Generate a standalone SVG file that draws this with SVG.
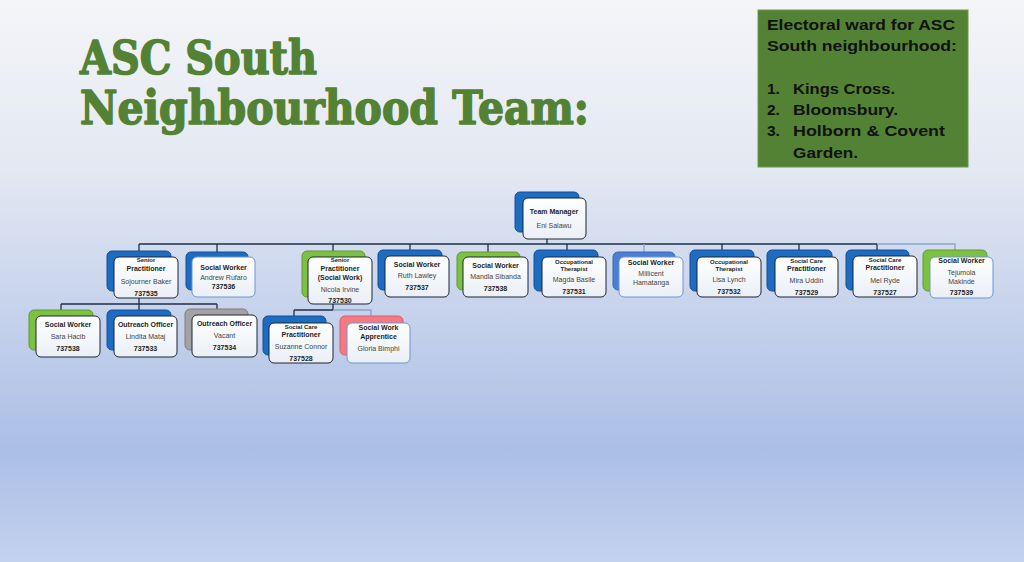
<svg xmlns="http://www.w3.org/2000/svg" width="1024" height="562" viewBox="0 0 1024 562">
<defs>
<linearGradient id="bg" x1="0" y1="0" x2="0" y2="1">
<stop offset="0" stop-color="#f4f5f8"/>
<stop offset="0.3" stop-color="#e3e8f2"/>
<stop offset="0.8" stop-color="#abbee6"/>
<stop offset="1" stop-color="#c3d2ee"/>
</linearGradient>
<linearGradient id="fg" x1="0" y1="0" x2="0" y2="1">
<stop offset="0" stop-color="#ffffff"/>
<stop offset="1" stop-color="#eaeff6"/>
</linearGradient>
<style>
.bb{fill:#1d6cc2;stroke:#134f94;stroke-width:1}
.bg{fill:#7dc142;stroke:#5f9a2e;stroke-width:1}
.bgr{fill:#a3a3a3;stroke:#7d7d7d;stroke-width:1}
.bp{fill:#f47a82;stroke:#d85d66;stroke-width:1}
.bl{fill:#4a7fd2;stroke:#3a69b5;stroke-width:1}
.fr{fill:url(#fg);stroke:#1c2636;stroke-width:1}
.fl{fill:url(#fg);stroke:#6f95d6;stroke-width:1}
text{font-family:"Liberation Sans",Arial,sans-serif;text-anchor:middle}
.t{font-size:7px;font-weight:bold;fill:#1e1e1e}
.ts{font-size:6px;font-weight:bold;fill:#1e1e1e}
.n{font-size:7px;fill:#444}
.id{font-size:7px;font-weight:bold;fill:#1e1e1e}
.c{stroke:#1f2f4a;stroke-width:1.3;fill:none}
.cl{stroke:#8aa3cc;stroke-width:1.3;fill:none}
.title{font-family:"DejaVu Serif",serif;font-weight:bold;font-size:46px;fill:#538234;stroke:#538234;stroke-width:1.6;stroke-linejoin:round;text-anchor:start}
.box{font-family:"Liberation Sans",Arial,sans-serif;font-size:15.5px;font-weight:bold;fill:#111;text-anchor:start}
</style>
</defs>
<rect x="0" y="0" width="1024" height="562" fill="url(#bg)"/>

<g id="title">
<text class="title" x="80" y="74" textLength="237" lengthAdjust="spacingAndGlyphs">ASC South</text>
<text class="title" x="80" y="124" textLength="509" lengthAdjust="spacingAndGlyphs">Neighbourhood Team:</text>
</g>

<g id="wards">
<rect x="758" y="10" width="210" height="157" fill="#548235" stroke="#6b9a4a" stroke-width="1"/>
<text class="box" x="767" y="30" textLength="188" lengthAdjust="spacingAndGlyphs">Electoral ward for ASC</text>
<text class="box" x="767" y="51" textLength="190" lengthAdjust="spacingAndGlyphs">South neighbourhood:</text>
<text class="box" x="767" y="94">1.</text>
<text class="box" x="793" y="94" textLength="102" lengthAdjust="spacingAndGlyphs">Kings Cross.</text>
<text class="box" x="767" y="115">2.</text>
<text class="box" x="793" y="115" textLength="105" lengthAdjust="spacingAndGlyphs">Bloomsbury.</text>
<text class="box" x="767" y="136">3.</text>
<text class="box" x="793" y="136" textLength="152" lengthAdjust="spacingAndGlyphs">Holborn &amp; Covent</text>
<text class="box" x="793" y="158" textLength="65" lengthAdjust="spacingAndGlyphs">Garden.</text>
</g>

<g id="connectors">
<path class="c" d="M547 232V244M139 244H877M139 244V251M217 244V252M333 244V251M410 244V250M488 244V252M567 244V250M722 244V250M799 244V250M877 244V250"/>
<path class="cl" d="M877 244H955V250M644 244V252"/>
<path class="c" d="M139 298V304M61 304H217M61 304V310M139 304V310M217 304V309"/>
<path class="c" d="M333 304V310M294 310H333M294 310V316"/>
<path class="cl" d="M333 310H371V316"/>
</g>

<g id="team-manager">
<rect class="bb" x="515" y="192" width="64" height="40" rx="5"/>
<rect class="fr" x="523" y="198" width="63" height="41" rx="5"/>
<text class="t" x="554" y="214">Team Manager</text>
<text class="n" x="554" y="228">Eni Salawu</text>
</g>

<g id="sojourner-baker">
<rect class="bb" x="107" y="251" width="64" height="40" rx="5"/>
<rect class="fr" x="114" y="257" width="64" height="41" rx="5"/>
<text class="ts" x="146" y="262">Senior</text>
<text class="t" x="146" y="271">Practitioner</text>
<text class="n" x="146" y="284">Sojourner Baker</text>
<text class="id" x="146" y="296">737535</text>
</g>

<g id="andrew-rufaro">
<rect class="bb" x="186" y="252" width="62" height="38" rx="5"/>
<rect class="fl" x="192" y="257" width="63" height="40" rx="5"/>
<text class="t" x="223.5" y="270">Social Worker</text>
<text class="n" x="223.5" y="280">Andrew Rufaro</text>
<text class="id" x="223.5" y="289">737536</text>
</g>

<g id="nicola-irvine">
<rect class="bg" x="302" y="251" width="63" height="46" rx="5"/>
<rect class="fr" x="308" y="257" width="64" height="47" rx="5"/>
<text class="ts" x="340" y="262">Senior</text>
<text class="t" x="340" y="271">Practitioner</text>
<text class="t" x="340" y="280">(Social Work)</text>
<text class="n" x="340" y="292">Nicola Irvine</text>
<text class="id" x="340" y="303">737530</text>
</g>

<g id="ruth-lawley">
<rect class="bb" x="378" y="250" width="64" height="40" rx="5"/>
<rect class="fr" x="385" y="256" width="64" height="41" rx="5"/>
<text class="t" x="417" y="267">Social Worker</text>
<text class="n" x="417" y="278">Ruth Lawley</text>
<text class="id" x="417" y="290">737537</text>
</g>

<g id="mandla-sibanda">
<rect class="bg" x="457" y="252" width="63" height="38" rx="5"/>
<rect class="fr" x="463" y="257" width="65" height="40" rx="5"/>
<text class="t" x="495.5" y="268">Social Worker</text>
<text class="n" x="495.5" y="279">Mandla Sibanda</text>
<text class="id" x="495.5" y="291">737538</text>
</g>

<g id="magda-basile">
<rect class="bb" x="534" y="250" width="64" height="41" rx="5"/>
<rect class="fr" x="542" y="257" width="64" height="40" rx="5"/>
<text class="ts" x="574" y="264">Occupational</text>
<text class="ts" x="574" y="271">Therapist</text>
<text class="n" x="574" y="282">Magda Basile</text>
<text class="id" x="574" y="294">737531</text>
</g>

<g id="millicent-hamatanga">
<rect class="bl" x="613" y="252" width="62" height="38" rx="5"/>
<rect class="fl" x="619" y="257" width="64" height="40" rx="5"/>
<text class="t" x="651" y="265">Social Worker</text>
<text class="n" x="651" y="276">Millicent</text>
<text class="n" x="651" y="285">Hamatanga</text>
</g>

<g id="lisa-lynch">
<rect class="bb" x="690" y="250" width="64" height="41" rx="5"/>
<rect class="fr" x="697" y="257" width="64" height="40" rx="5"/>
<text class="ts" x="729" y="264">Occupational</text>
<text class="ts" x="729" y="271">Therapist</text>
<text class="n" x="729" y="282">Lisa Lynch</text>
<text class="id" x="729" y="294">737532</text>
</g>

<g id="mira-uddin">
<rect class="bb" x="767" y="250" width="65" height="41" rx="5"/>
<rect class="fr" x="775" y="257" width="63" height="40" rx="5"/>
<text class="ts" x="806.5" y="263">Social Care</text>
<text class="t" x="806.5" y="271">Practitioner</text>
<text class="n" x="806.5" y="283">Mira Uddin</text>
<text class="id" x="806.5" y="295">737529</text>
</g>

<g id="mel-ryde">
<rect class="bb" x="846" y="250" width="63" height="40" rx="5"/>
<rect class="fr" x="853" y="256" width="64" height="41" rx="5"/>
<text class="ts" x="885" y="262">Social Care</text>
<text class="t" x="885" y="270">Practitioner</text>
<text class="n" x="885" y="283">Mel Ryde</text>
<text class="id" x="885" y="295">737527</text>
</g>

<g id="tejumola-makinde">
<rect class="bg" x="923" y="250" width="64" height="41" rx="5"/>
<rect class="fl" x="930" y="257" width="63" height="41" rx="5"/>
<text class="t" x="961.5" y="263">Social Worker</text>
<text class="n" x="961.5" y="275">Tejumola</text>
<text class="n" x="961.5" y="284">Makinde</text>
<text class="id" x="961.5" y="295">737539</text>
</g>

<g id="sara-hacib">
<rect class="bg" x="29" y="310" width="64" height="40" rx="5"/>
<rect class="fr" x="36" y="316" width="64" height="41" rx="5"/>
<text class="t" x="68" y="327">Social Worker</text>
<text class="n" x="68" y="339">Sara Hacib</text>
<text class="id" x="68" y="351">737538</text>
</g>

<g id="lindita-mataj">
<rect class="bb" x="107" y="310" width="64" height="40" rx="5"/>
<rect class="fr" x="114" y="316" width="63" height="41" rx="5"/>
<text class="t" x="145.5" y="327">Outreach Officer</text>
<text class="n" x="145.5" y="339">Lindita Mataj</text>
<text class="id" x="145.5" y="351">737533</text>
</g>

<g id="vacant">
<rect class="bgr" x="185" y="309" width="63" height="41" rx="5"/>
<rect class="fr" x="192" y="315" width="65" height="42" rx="5"/>
<text class="t" x="224.5" y="326">Outreach Officer</text>
<text class="n" x="224.5" y="338">Vacant</text>
<text class="id" x="224.5" y="350">737534</text>
</g>

<g id="suzanne-connor">
<rect class="bb" x="263" y="316" width="63" height="39" rx="5"/>
<rect class="fr" x="269" y="323" width="64" height="40" rx="5"/>
<text class="ts" x="301" y="329">Social Care</text>
<text class="t" x="301" y="337">Practitioner</text>
<text class="n" x="301" y="349">Suzanne Connor</text>
<text class="id" x="301" y="361">737528</text>
</g>

<g id="gloria-bimphi">
<rect class="bp" x="340" y="316" width="63" height="39" rx="5"/>
<rect class="fl" x="347" y="323" width="63" height="40" rx="5"/>
<text class="t" x="378.5" y="330">Social Work</text>
<text class="t" x="378.5" y="339">Apprentice</text>
<text class="n" x="378.5" y="351">Gloria Bimphi</text>
</g>
</svg>
